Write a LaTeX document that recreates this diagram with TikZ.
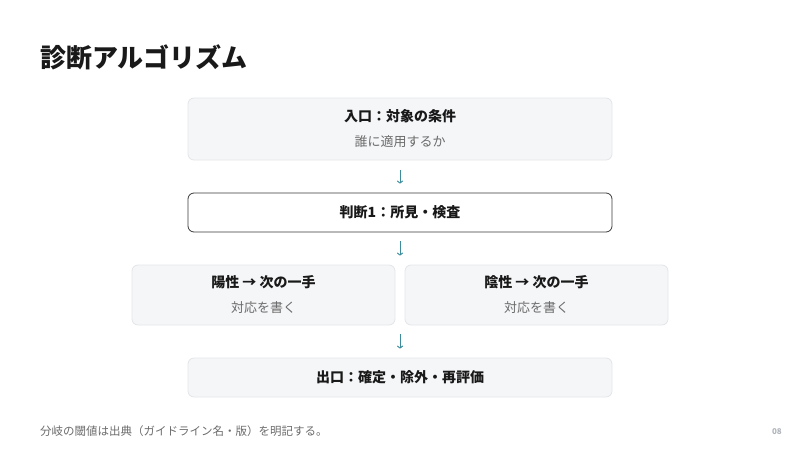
\documentclass[tikz,border=0pt]{standalone}
\usepackage{fontspec}
\setmainfont{Noto Sans CJK JP}
\usetikzlibrary{positioning,arrows.meta}

\definecolor{boxfill}{HTML}{F5F6F8}
\definecolor{boxline}{HTML}{E3E5E9}
\definecolor{darkline}{HTML}{3A3A3A}
\definecolor{subtext}{HTML}{6B6B6B}
\definecolor{flowcol}{HTML}{3C8C9C}
\definecolor{pagecol}{HTML}{AEB3BA}

\begin{document}
\begin{tikzpicture}[x=1pt, y=-1pt,
            every node/.style = {inner sep=0pt, text=black!90},
            stage/.style = {draw=boxline, fill=boxfill, rounded corners=6pt,
                    line width=0.8pt, align=center, minimum width=424pt,
                    font=\fontsize{14}{25}\selectfont},
            judge/.style = {stage, draw=darkline, fill=white},
            branch/.style = {stage, minimum width=263pt, minimum height=60pt},
            flow/.style = {draw=flowcol, line width=1pt, -{To[length=3pt,width=6pt]}},
        ]
        \useasboundingbox (0,0) rectangle (800,450);

        \node[anchor=west, font=\fontsize{26}{30}\selectfont\bfseries] (title) at (40,57) {診断アルゴリズム};

        \node[stage, minimum height=62pt] (entry) at (400,129)
            {\textbf{入口：対象の条件}\\{\fontsize{13}{25}\selectfont\color{subtext}誰に適用するか}};
        \node[judge, minimum height=39pt] (judge1) at (400,212.5) {\textbf{判断1：所見・検査}};
        \node[branch] (pos) at (263.5,295)
            {\textbf{陽性 → 次の一手}\\{\fontsize{13}{25}\selectfont\color{subtext}対応を書く}};
        \node[branch] (neg) at (536.5,295)
            {\textbf{陰性 → 次の一手}\\{\fontsize{13}{25}\selectfont\color{subtext}対応を書く}};
        \node[stage, minimum height=39pt] (exit) at (400,377.5) {\textbf{出口：確定・除外・再評価}};

        \draw[flow, shorten <=10pt, shorten >=9pt] (entry) -- (judge1);
        \draw[flow, shorten <=9pt, shorten >=9pt] (judge1.south) -- (judge1.south |- pos.north);
        \draw[flow, shorten <=9pt, shorten >=9pt] (exit.north |- pos.south) -- (exit.north);

        \node[anchor=west, text=subtext, font=\fontsize{11.5}{14}\selectfont] (note) at (40,431)
            {分岐の閾値は出典（ガイドライン名・版）を明記する。};
        \node[anchor=east, text=pagecol, font=\fontsize{8}{10}\selectfont\bfseries] (page) at (782,432) {08};
    \end{tikzpicture}
\end{document}
